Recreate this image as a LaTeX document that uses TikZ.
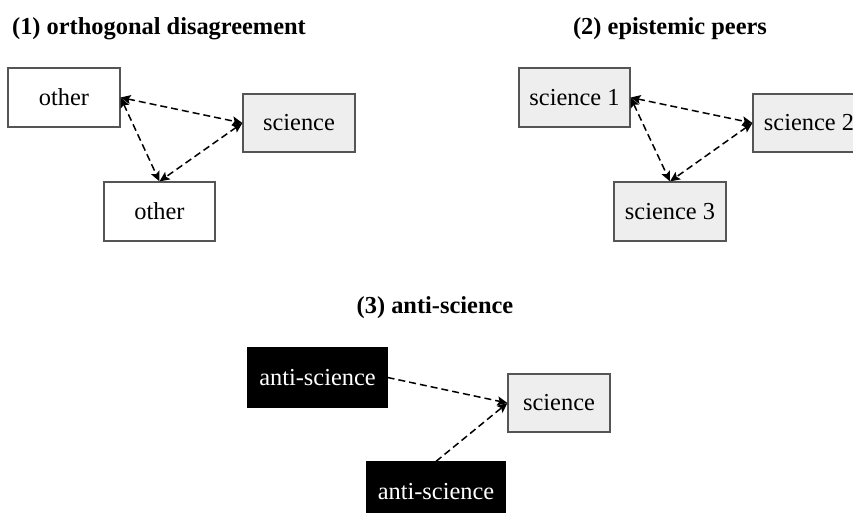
\documentclass[tikz,border=0pt]{standalone}
\usepackage{fontspec}
\setmainfont{Liberation Serif}
\usetikzlibrary{arrows.meta}
\definecolor{boxline}{HTML}{555555}
\definecolor{scifill}{HTML}{EEEEEE}
\tikzset{
  every node/.style={font=\fontsize{24.4}{29}\selectfont},
  title/.style={font=\fontsize{24.4}{29}\selectfont\bfseries, anchor=base},
  otherbox/.style={draw=boxline, line width=1.2pt, fill=white, minimum height=59pt, inner sep=0pt},
  scibox/.style={draw=boxline, line width=1.2pt, fill=scifill, minimum height=58pt, inner sep=0pt},
  antibox/.style={draw=black, line width=1.2pt, fill=black, text=white, minimum height=59pt, inner sep=0pt},
  link/.style={dashed, dash pattern=on 7pt off 4pt, line width=1.5pt, black},
  tip/.style={},
  both/.style={link, {Stealth[length=10pt,width=9pt,inset=2pt]}-{Stealth[length=10pt,width=9pt,inset=2pt]}},
  one/.style={link, -{Stealth[length=10pt,width=9pt,inset=2pt]}}
}
\begin{document}
\begin{tikzpicture}[x=1pt,y=-1pt]
\useasboundingbox (0,0) rectangle (853,513);
\clip (0,0) rectangle (853,513);
% titles
\node[title] (t1) at (159,35) {(1) orthogonal disagreement};
\node[title] (t2) at (670,35) {(2) epistemic peers};
\node[title] (t3) at (435,313) {(3) anti-science};
% part 1
\node[otherbox, minimum width=112pt] (o1) at (64,97.5) {other};
\node[scibox, minimum width=112pt] (s1) at (299,123) {science};
\node[otherbox, minimum width=111pt] (o2) at (159.5,211.5) {other};
\draw[both] (o1.east) -- (s1.west);
\draw[both] (o1.east) -- (o2.north);
\draw[both] (s1.west) -- (o2.north);
% part 2
\node[scibox, minimum width=111pt, minimum height=59pt] (p1) at (574.5,97.5) {science 1};
\node[scibox, minimum width=112pt] (p2) at (809,123) {science 2};
\node[scibox, minimum width=112pt, minimum height=59pt] (p3) at (670,211.5) {science 3};
\draw[both] (p1.east) -- (p2.west);
\draw[both] (p1.east) -- (p3.north);
\draw[both] (p2.west) -- (p3.north);
% part 3
\node[antibox, minimum width=139pt] (a1) at (317.5,377.5) {anti-science};
\node[scibox, minimum width=102pt] (sc) at (559,403) {science};
\node[antibox, minimum width=138pt] (a2) at (436,491.5) {anti-science};
\draw[one] (a1.east) -- (sc.west);
\draw[one] (a2.north) -- (sc.west);
\end{tikzpicture}
\end{document}
